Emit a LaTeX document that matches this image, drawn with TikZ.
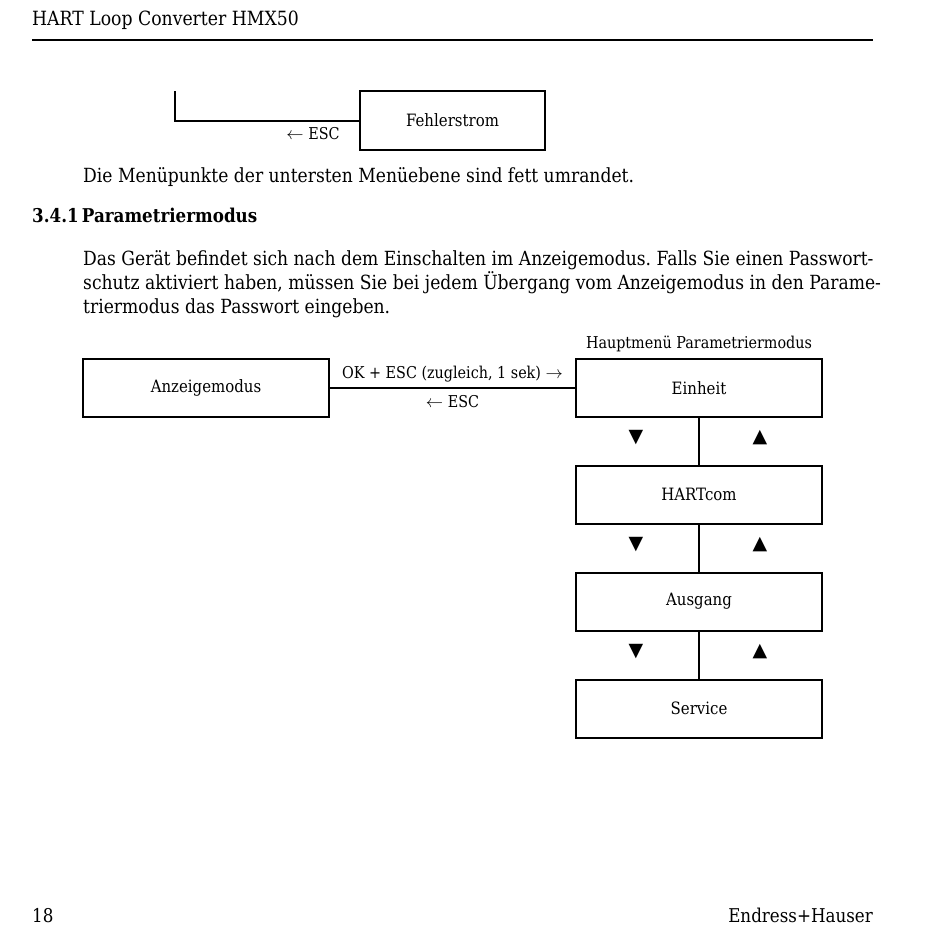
\documentclass[tikz,border=0pt]{standalone}
\usepackage{fontspec}
\setmainfont{DejaVu Serif}[FakeStretch=0.88]
\newfontfamily\symfont{DejaVu Sans}
\usepackage{tikz}
\usetikzlibrary{positioning, calc}
\frenchspacing

\begin{document}
\begin{tikzpicture}[x=1pt, y=-1pt,
    menu/.style={rectangle, draw, line width=2pt, minimum width=246pt,
                 minimum height=58pt, text centered, fill=white,
                 font=\fontsize{17}{20}\selectfont},
    link/.style={line width=2pt},
    lbl/.style={font=\fontsize{16.3}{19}\selectfont, inner sep=1pt},
    body/.style={font=\fontsize{19.5}{24}\selectfont, anchor=base west, inner sep=0pt},
    tri/.style={font=\symfont\fontsize{19}{22}\selectfont, inner sep=0pt}]

\useasboundingbox (0,0) rectangle (950,951);

%% ── Page head ────────────────────────────────────────────────────────────────
\node[font=\fontsize{19.6}{22}\selectfont, anchor=base west, inner sep=0pt]
    (hdr) at (32,25) {HART Loop Converter HMX50};
\coordinate (rulel) at (32,40);
\coordinate (ruler) at (873,40);
\draw[line width=2pt] (rulel) -- (ruler);

%% ── Tail of previous menu ────────────────────────────────────────────────────
\node[menu, minimum width=185pt, minimum height=59pt] (fehler) at (452.5,120.5)
    {Fehlerstrom};
\coordinate (prev) at (175,91);
\draw[link] (fehler.west) -| (prev);
\node[lbl] (escprev) at (313,134) {$\leftarrow$ ESC};

%% ── Text ─────────────────────────────────────────────────────────────────────
\node[body] (note) at (83,182)
    {Die Menüpunkte der untersten Menüebene sind fett umrandet.};
\node[body, font=\bfseries\fontsize{19}{24}\selectfont] (sec) at (32,222)
    {3.4.1\,Parametriermodus};
\node[body] (par1) at (83,265)
    {Das Gerät befindet sich nach dem Einschalten im Anzeigemodus. Falls Sie einen Passwort-};
\node[body] (par2) at (83,289)
    {schutz aktiviert haben, müssen Sie bei jedem Übergang vom Anzeigemodus in den Parame-};
\node[body] (par3) at (83,313)
    {triermodus das Passwort eingeben.};

%% ── Menu ─────────────────────────────────────────────────────────────────────
\node[menu] (anzeige) at (206,388) {Anzeigemodus};
\node[menu] (einheit) at (699,388) {Einheit};
\node[menu] (hartcom) at (699,494.5) {HARTcom};
\node[menu] (ausgang) at (699,601.5) {Ausgang};
\node[menu] (service) at (699,708.5) {Service};

\node[lbl, above=5pt of einheit] (hauptmenu) {Hauptmenü Parametriermodus};

\draw[link] (anzeige.east)
    -- node[lbl, above=4pt]{OK + ESC (zugleich, 1 sek) $\rightarrow$}
       node[lbl, below=5pt]{$\leftarrow$ ESC}
    (einheit.west);

\draw[link] (einheit.south) -- (hartcom.north);
\draw[link] (hartcom.south) -- (ausgang.north);
\draw[link] (ausgang.south) -- (service.north);

%% down / up keys
\node[tri] (dn1) at (636,438) {▼};
\node[tri] (up1) at (760,438) {▲};
\node[tri] (dn2) at (636,545) {▼};
\node[tri] (up2) at (760,545) {▲};
\node[tri] (dn3) at (636,652) {▼};
\node[tri] (up3) at (760,652) {▲};

%% ── Page foot ────────────────────────────────────────────────────────────────
\node[font=\fontsize{19}{22}\selectfont, anchor=base west, inner sep=0pt]
    (pgno) at (32,922) {18};
\node[font=\fontsize{19}{22}\selectfont, anchor=base east, inner sep=0pt]
    (brand) at (873,922) {Endress+Hauser};

\end{tikzpicture}
\end{document}
